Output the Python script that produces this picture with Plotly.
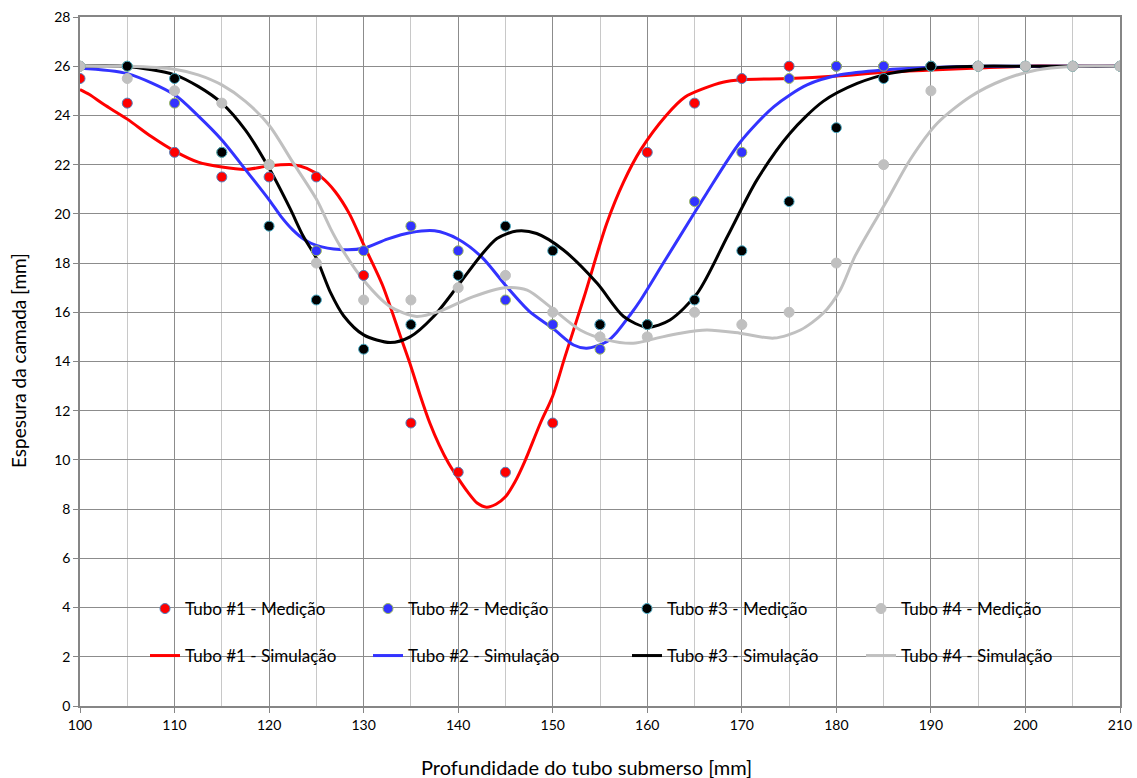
import plotly.graph_objects as go

# ---- data ----
x_med = [100, 105, 110, 115, 120, 125, 130, 135, 140, 145, 150, 155, 160, 165, 170, 175, 180, 185, 190, 195, 200, 205, 210]
t1_med = [25.5, 24.5, 22.5, 21.5, 21.5, 21.5, 17.5, 11.5, 9.5, 9.5, 11.5, 15.5, 22.5, 24.5, 25.5, 26, 26, 26, 26, 26, 26, 26, 26]
t2_med = [26, 26, 24.5, 22.5, 22, 18.5, 18.5, 19.5, 18.5, 16.5, 15.5, 14.5, 15.5, 20.5, 22.5, 25.5, 26, 26, 26, 26, 26, 26, 26]
t3_med = [26, 26, 25.5, 22.5, 19.5, 16.5, 14.5, 15.5, 17.5, 19.5, 18.5, 15.5, 15.5, 16.5, 18.5, 20.5, 23.5, 25.5, 26, 26, 26, 26, 26]
t4_med = [26, 25.5, 25, 24.5, 22, 18, 16.5, 16.5, 17, 17.5, 16, 15, 15, 16, 15.5, 16, 18, 22, 25, 26, 26, 26, 26]

t1_sim_x = [100, 101, 102.5, 105, 107.5, 110, 112.5, 115, 117.5, 120, 122.5, 124, 125.5, 127, 128.5, 130, 132, 134, 135, 136, 137, 138, 139, 140, 141, 142, 143, 144, 145, 146, 147, 148.7, 150, 151.3, 153.3, 155.7, 157.5, 159.3, 162, 164, 166, 168, 170, 175, 180, 185, 190, 195, 200, 205, 210]
t1_sim_y = [25.05, 24.85, 24.45, 23.85, 23.15, 22.55, 22.1, 21.9, 21.8, 21.95, 22.0, 21.85, 21.5, 20.9, 20.0, 18.75, 17.1, 14.9, 13.8, 12.6, 11.5, 10.6, 9.85, 9.25, 8.7, 8.25, 8.08, 8.2, 8.5, 9.1, 9.9, 11.5, 12.6, 14.2, 16.6, 19.6, 21.3, 22.6, 24.0, 24.75, 25.1, 25.35, 25.45, 25.5, 25.6, 25.75, 25.85, 25.93, 26.0, 26.0, 26.0]

t2_sim_x = [100, 105, 110, 112.5, 115, 117.5, 120, 121.25, 122.5, 123.75, 125, 127.5, 130, 132.5, 135, 137.5, 140, 142.5, 145, 147.5, 150, 152.2, 153.6, 155.7, 156.8, 158.2, 159.3, 161.7, 164.6, 166.3, 169.8, 173.4, 176.9, 180.4, 185, 190, 195, 200, 205, 210]
t2_sim_y = [25.92, 25.7, 24.84, 23.98, 23.0, 21.8, 20.57, 19.9, 19.35, 18.95, 18.72, 18.55, 18.6, 18.97, 19.24, 19.31, 18.97, 18.24, 17.1, 16.05, 15.35, 14.67, 14.54, 14.8, 15.2, 15.9, 16.5, 18.0, 19.8, 20.85, 22.9, 24.36, 25.24, 25.65, 25.85, 25.95, 26.0, 26.0, 26.0, 26.0]

t3_sim_x = [100, 105, 110, 112.5, 115, 117.5, 120, 122.2, 123.6, 125, 126.5, 127.9, 130, 132.8, 134.9, 137.4, 139.9, 142.3, 144.1, 146.2, 148.3, 151.1, 154.7, 157.5, 160, 162.4, 165.3, 168.5, 171.6, 175.1, 178.6, 182.2, 185.7, 190, 195, 200, 205, 210]
t3_sim_y = [26.0, 25.99, 25.65, 25.18, 24.5, 23.4, 21.85, 20.23, 19.1, 18.2, 16.8, 15.85, 15.08, 14.77, 15.0, 15.83, 17.04, 18.26, 19.0, 19.3, 19.2, 18.54, 17.18, 15.83, 15.39, 15.69, 16.78, 19.1, 21.38, 23.28, 24.57, 25.3, 25.71, 25.92, 26.0, 26.0, 26.0, 26.0]

t4_sim_x = [100, 105, 110, 112.5, 115, 117.5, 120, 122.5, 125, 126.5, 127.5, 130, 132.8, 135.6, 138.1, 141.6, 145, 147.3, 149.7, 152.9, 155.7, 158.5, 161, 163.5, 166.3, 169.8, 173.4, 176.2, 178.6, 180.4, 182, 185.4, 187.8, 190.7, 194.2, 197.7, 201.2, 204.8, 210]
t4_sim_y = [26.0, 26.0, 25.88, 25.65, 25.24, 24.57, 23.6, 22.1, 20.6, 19.4, 18.7, 17.3, 16.23, 15.83, 16.05, 16.64, 17.0, 16.9, 16.23, 15.28, 14.88, 14.74, 14.95, 15.15, 15.28, 15.15, 14.95, 15.28, 15.96, 16.9, 18.3, 20.57, 22.2, 23.69, 24.77, 25.45, 25.85, 25.99, 26.0]

x_ticks = [100, 110, 120, 130, 140, 150, 160, 170, 180, 190, 200, 210]
y_ticks = list(range(0, 29, 2))

names_med = ["Tubo #1 - Medição", "Tubo #2 - Medição", "Tubo #3 - Medição", "Tubo #4 - Medição"]
names_sim = ["Tubo #1 - Simulação", "Tubo #2 - Simulação", "Tubo #3 - Simulação", "Tubo #4 - Simulação"]

# ---- styles ----
line_colors = ["#ff0000", "#3333ff", "#000000", "#c0c0c0"]
marker_fill = ["#ff0000", "#3333ff", "#000000", "#c0c0c0"]
marker_edge = ["#4f81bd", "#9bbb59", "#4bacc6", "#c0c0c0"]
marker_size = [10, 10, 10, 10]
FONT = "Lato"

W, H = 1137, 778
ML, MR, MT, MB = 80, 17, 17, 72
PW, PH = W - ML - MR, H - MT - MB

def px_to_paper_x(px):
    return (px - ML) / PW

def px_to_paper_y(py):
    return (H - MB - py) / PH

col_starts = [150, 373, 632, 866]
row_y = [609, 656]

fig = go.Figure()

sims = [(t1_sim_x, t1_sim_y), (t2_sim_x, t2_sim_y), (t3_sim_x, t3_sim_y), (t4_sim_x, t4_sim_y)]
meds = [t1_med, t2_med, t3_med, t4_med]

legend_layouts = {}
idx = 1
for i, (sx, sy) in enumerate(sims):
    lname = "legend" if idx == 1 else f"legend{idx}"
    fig.add_trace(go.Scatter(x=sx, y=sy, mode="lines", name=names_sim[i],
                             line=dict(color=line_colors[i], width=3, shape="spline", smoothing=0.8),
                             legend=lname))
    legend_layouts[lname] = dict(x=px_to_paper_x(col_starts[i] - 5), y=px_to_paper_y(row_y[1]),
                                 xanchor="left", yanchor="middle", bgcolor="rgba(0,0,0,0)",
                                 font=dict(family=FONT, size=17, color="#000000"),
                                 itemwidth=30)
    idx += 1

for i, my in enumerate(meds):
    lname = f"legend{idx}"
    fig.add_trace(go.Scatter(x=x_med, y=my, mode="markers", name=names_med[i],
                             marker=dict(color=marker_fill[i], size=marker_size[i],
                                         line=dict(color=marker_edge[i], width=1)),
                             legend=lname))
    legend_layouts[lname] = dict(x=px_to_paper_x(col_starts[i] - 5), y=px_to_paper_y(row_y[0]),
                                 xanchor="left", yanchor="middle", bgcolor="rgba(0,0,0,0)",
                                 font=dict(family=FONT, size=17, color="#000000"),
                                 itemwidth=30)
    idx += 1

fig.update_layout(
    width=W, height=H,
    margin=dict(l=ML, r=MR, t=MT, b=MB, autoexpand=False),
    paper_bgcolor="white", plot_bgcolor="white",
    font=dict(family=FONT, size=14, color="#000000"),
    showlegend=True,
    **legend_layouts,
    shapes=[dict(type="rect", xref="paper", yref="paper",
                 x0=px_to_paper_x(132), x1=px_to_paper_x(1077),
                 y0=px_to_paper_y(677), y1=px_to_paper_y(585),
                 fillcolor="white", line=dict(width=0), layer="between")],
    annotations=[
        dict(text="Profundidade do tubo submerso [mm]", xref="paper", yref="paper",
             x=px_to_paper_x(586), y=px_to_paper_y(767), xanchor="center", yanchor="middle",
             showarrow=False, font=dict(family=FONT, size=20, color="#000000")),
        dict(text="Espesura da camada [mm]", xref="paper", yref="paper",
             x=px_to_paper_x(18), y=px_to_paper_y(361), xanchor="center", yanchor="middle",
             textangle=-90, showarrow=False, font=dict(family=FONT, size=19, color="#000000")),
    ],
)

fig.update_xaxes(range=[100, 210], tickvals=x_ticks, ticktext=[str(v) for v in x_ticks],
                 showgrid=True, gridcolor="#8c8c8c", gridwidth=1,
                 minor=dict(dtick=5, showgrid=True, gridcolor="#c8c8c8", gridwidth=1),
                 showline=True, linecolor="#868686", linewidth=1.5, mirror=True,
                 ticks="outside", ticklen=5, tickcolor="#868686",
                 tickfont=dict(family=FONT, size=14, color="#000000"),
                 zeroline=False, fixedrange=True)
fig.update_yaxes(range=[0, 28], tickvals=y_ticks, ticktext=[str(v) for v in y_ticks],
                 showgrid=True, gridcolor="#8c8c8c", gridwidth=1,
                 showline=True, linecolor="#868686", linewidth=1.5, mirror=True,
                 ticks="outside", ticklen=5, tickcolor="#868686",
                 tickfont=dict(family=FONT, size=14, color="#000000"),
                 zeroline=False, fixedrange=True)

fig.write_html("out.html")
